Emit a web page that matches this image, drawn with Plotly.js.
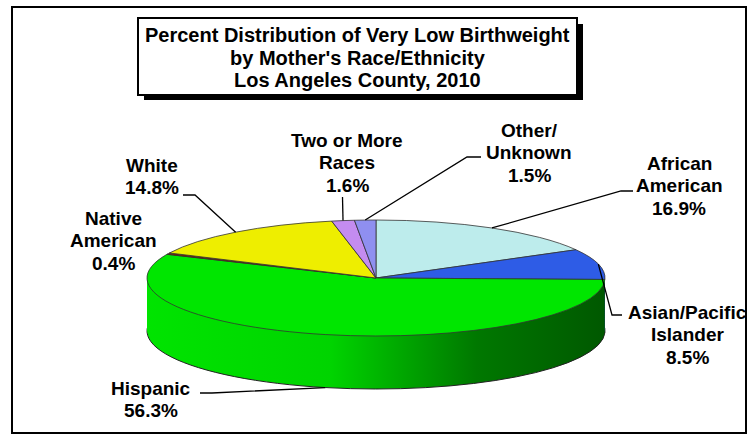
<!DOCTYPE html>
<html>
<head>
<meta charset="utf-8">
<script src="https://cdn.plot.ly/plotly-3.0.1.min.js"></script>
<style>html,body{margin:0;padding:0;background:#fff;}#chart{width:748px;height:436px;}</style>
</head>
<body>
<div id="chart"></div>
<script>
// ---------------- data ----------------
const categories = ['African American', 'Asian/Pacific Islander', 'Hispanic', 'Native American', 'White', 'Two or More Races', 'Other/Unknown'];
const percents = [16.9, 8.5, 56.3, 0.4, 14.8, 1.6, 1.5];
const labelNames = [['African', 'American'], ['Asian/Pacific', 'Islander'], ['Hispanic'], ['Native', 'American'], ['White'], ['Two or More', 'Races'], ['Other/', 'Unknown']];
const titleLines = ["Percent Distribution of Very Low Birthweight", "by Mother's Race/Ethnicity", "Los Angeles County, 2010"];

// ---------------- styles / layout ----------------
const topColors  = ['#bdecec', '#2e5ce6', '#00e600', '#8b1c00', '#eeee00', '#c48cf0', '#8f8ff0'];
const sideColors = ['#8ab8b8', '#1c3a9c', '#00a000', '#5a1000', '#a8a800', '#8a5cb0', '#5c5cb0'];
const W = 748, H = 436;
const geom = {cx: 376, cy: 278, rx: 229, ry: 58, depth: 53, step: 2};
const FONT = '"Liberation Sans", Arial, Helvetica, sans-serif';
const labelLayout = [
  {x: 679, y: 163, leader: {elbow: [621, 191], end: [633, 191]}},
  {x: 687, y: 312, leader: {elbow: [612, 315], end: [622, 315]}},
  {x: 151, y: 388, leader: {elbow: [212, 393], end: [200, 393], bottom: true}},
  {x: 113, y: 218, leader: null},
  {x: 152, y: 165, leader: {elbow: [195, 195], end: [183, 195]}},
  {x: 347, y: 140, leader: {elbow: [342.5, 197], end: [342.5, 197]}},
  {x: 529, y: 130, leader: {elbow: [467, 157], end: [481, 157]}}
];
const lineGap = 22.5;
const titleLayout = {x: 357.5, y: 35, gap: 22.5, size: 20};

const px = x => x / W;
const py = y => 1 - y / H;

const domain = {x: [0.25, 0.75], y: [0.1, 0.9]};
function pieTrace(colors, lw, lc) {
  return {
    type: 'pie', values: percents, labels: categories, sort: false,
    direction: 'clockwise', rotation: 0, textinfo: 'none', hoverinfo: 'skip',
    showlegend: false, domain: domain,
    marker: {colors: colors, line: {width: lw, color: lc}}
  };
}

const offsets = [];
for (let o = geom.depth; o > 0; o -= geom.step) offsets.push(o);
const traces = offsets.map((o, i) => pieTrace(sideColors, i === 0 ? 1 : 0, '#222'));
offsets.push(0);
traces.push(pieTrace(topColors, 0.8, '#333'));

// annotations
const annotations = [];
titleLines.forEach((t, k) => {
  annotations.push({xref: 'paper', yref: 'paper', x: px(titleLayout.x), y: py(titleLayout.y + k * titleLayout.gap),
    xanchor: 'center', yanchor: 'middle', showarrow: false, text: '<b>' + t + '</b>',
    font: {family: FONT, size: titleLayout.size, color: '#000'}});
});
categories.forEach((c, i) => {
  const lines = labelNames[i].concat([percents[i].toFixed(1) + '%']);
  lines.forEach((t, k) => {
    annotations.push({xref: 'paper', yref: 'paper', x: px(labelLayout[i].x), y: py(labelLayout[i].y + k * lineGap),
      xanchor: 'center', yanchor: 'middle', showarrow: false, text: '<b>' + t + '</b>',
      font: {family: FONT, size: 19, color: '#000'}});
  });
});

// shapes
const shapes = [
  {type: 'rect', xref: 'paper', yref: 'paper', x0: px(12), x1: px(746), y0: py(7), y1: py(433), line: {color: '#000', width: 2}, fillcolor: 'rgba(0,0,0,0)', layer: 'below'},
  {type: 'rect', xref: 'paper', yref: 'paper', x0: px(144), x1: px(583), y0: py(24), y1: py(100), line: {width: 0}, fillcolor: '#000', layer: 'above'},
  {type: 'rect', xref: 'paper', yref: 'paper', x0: px(138), x1: px(577), y0: py(18), y1: py(95), line: {color: '#000', width: 2}, fillcolor: '#fff', layer: 'above'}
];
let cum = 0;
percents.forEach((v, i) => {
  const mid = (cum + v / 2) / 100 * 2 * Math.PI;
  cum += v;
  const L = labelLayout[i].leader;
  if (!L) return;
  const x0 = geom.cx + geom.rx * Math.sin(mid);
  const y0 = geom.cy - geom.ry * Math.cos(mid) + (L.bottom ? geom.depth : 0);
  shapes.push({type: 'path', xref: 'paper', yref: 'paper', layer: 'above',
    path: `M ${px(x0)},${py(y0)} L ${px(L.elbow[0])},${py(L.elbow[1])} L ${px(L.end[0])},${py(L.end[1])}`,
    line: {color: '#000', width: 1.3}});
});

const layout = {
  width: W, height: H, margin: {l: 0, r: 0, t: 0, b: 0},
  paper_bgcolor: '#fff', plot_bgcolor: '#fff', showlegend: false,
  annotations: annotations, shapes: shapes
};

const gd = document.getElementById('chart');
Plotly.newPlot(gd, traces, layout, {staticPlot: true, displayModeBar: false}).then(() => {
  const svg = gd.querySelector('svg.main-svg');
  let defs = svg.querySelector('defs');
  const NS = 'http://www.w3.org/2000/svg';
  if (!defs) { defs = document.createElementNS(NS, 'defs'); svg.insertBefore(defs, svg.firstChild); }
  const grad = document.createElementNS(NS, 'linearGradient');
  grad.setAttribute('id', 'hispSide');
  grad.setAttribute('x1', '0'); grad.setAttribute('y1', '0'); grad.setAttribute('x2', '1'); grad.setAttribute('y2', '0');
  [['0', '#00e400'], ['0.4', '#00d400'], ['0.72', '#007800'], ['1', '#005800']].forEach(s => {
    const st = document.createElementNS(NS, 'stop');
    st.setAttribute('offset', s[0]); st.setAttribute('stop-color', s[1]);
    grad.appendChild(st);
  });
  defs.appendChild(grad);

  const groups = gd.querySelectorAll('.pielayer g.trace');
  groups.forEach((g, i) => {
    const cd0 = gd.calcdata[i][0];
    let cx = cd0.cx, cy = cd0.cy, r = cd0.r;
    if (cx === undefined) {
      cx = W * (domain.x[0] + domain.x[1]) / 2; cy = H * (1 - (domain.y[0] + domain.y[1]) / 2);
      r = Math.min(W * (domain.x[1] - domain.x[0]), H * (domain.y[1] - domain.y[0])) / 2;
    }
    const sx = geom.rx / r, sy = geom.ry / r;
    g.setAttribute('transform', `translate(${geom.cx},${geom.cy + offsets[i]}) scale(${sx},${sy}) translate(${-cx},${-cy})`);
    const paths = g.querySelectorAll('path');
    paths.forEach(p => p.setAttribute('vector-effect', 'non-scaling-stroke'));
    if (offsets[i] > 0) {
      const slices = g.querySelectorAll('g.slice');
      if (slices[2]) slices[2].querySelectorAll('path').forEach(p => { p.style.fill = 'url(#hispSide)'; });
    }
  });
});
</script>
</body>
</html>
